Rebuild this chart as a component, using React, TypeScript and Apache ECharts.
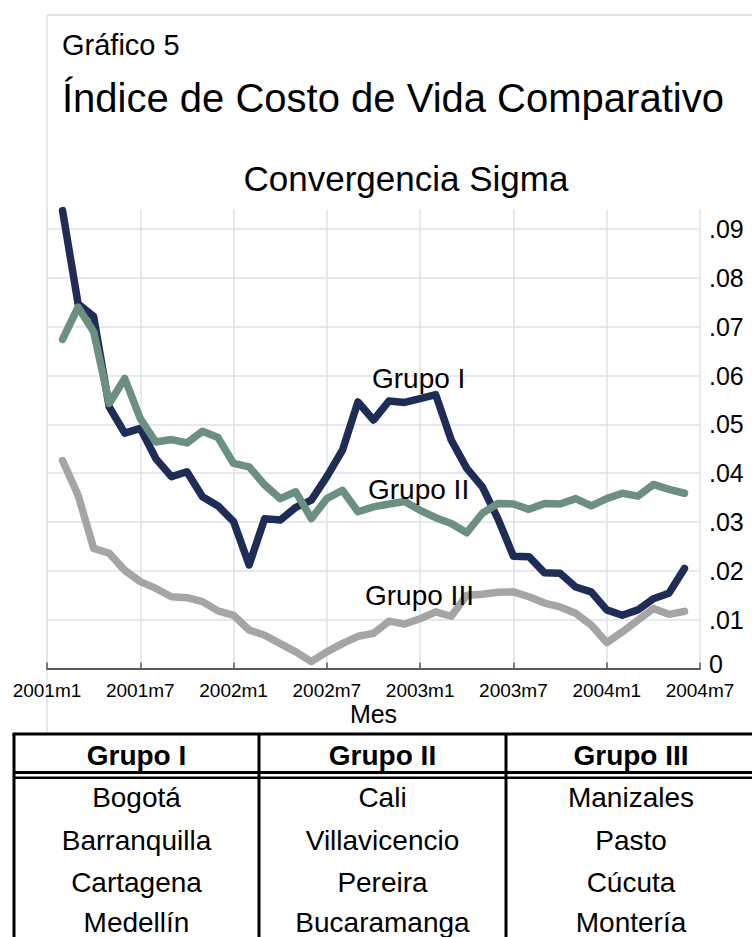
import React, { useEffect, useRef } from "react";
import * as echarts from "echarts";

const categories = [
  "2001m1","2001m2","2001m3","2001m4","2001m5","2001m6","2001m7","2001m8","2001m9","2001m10","2001m11","2001m12",
  "2002m1","2002m2","2002m3","2002m4","2002m5","2002m6","2002m7","2002m8","2002m9","2002m10","2002m11","2002m12",
  "2003m1","2003m2","2003m3","2003m4","2003m5","2003m6","2003m7","2003m8","2003m9","2003m10","2003m11","2003m12",
  "2004m1","2004m2","2004m3","2004m4","2004m5","2004m6","2004m7",
];

// 2001m2 .. 2004m6
const grupoI = [
  0.0938, 0.0747, 0.0721, 0.0536, 0.0482, 0.0492, 0.0430, 0.0393, 0.0403, 0.0352, 0.0333,
  0.0301, 0.0212, 0.0307, 0.0304, 0.0330, 0.0345, 0.0393, 0.0447, 0.0546, 0.0509, 0.0548,
  0.0545, 0.0553, 0.0561, 0.0468, 0.0410, 0.0372, 0.0307, 0.0230, 0.0229, 0.0196, 0.0195,
  0.0167, 0.0157, 0.0120, 0.0109, 0.0120, 0.0143, 0.0154, 0.0205,
];
const grupoII = [
  0.0674, 0.0740, 0.0690, 0.0543, 0.0594, 0.0512, 0.0464, 0.0469, 0.0462, 0.0486, 0.0473,
  0.0420, 0.0413, 0.0376, 0.0348, 0.0362, 0.0307, 0.0348, 0.0365, 0.0321, 0.0331, 0.0337,
  0.0342, 0.0324, 0.0309, 0.0297, 0.0278, 0.0318, 0.0338, 0.0337, 0.0326, 0.0338, 0.0337,
  0.0348, 0.0333, 0.0348, 0.0359, 0.0353, 0.0377, 0.0367, 0.0359,
];
const grupoIII = [
  0.0426, 0.0355, 0.0246, 0.0236, 0.0201, 0.0178, 0.0164, 0.0147, 0.0145, 0.0137, 0.0118,
  0.0109, 0.0079, 0.0068, 0.0051, 0.0034, 0.0014, 0.0034, 0.0051, 0.0066, 0.0072, 0.0097,
  0.0091, 0.0102, 0.0116, 0.0107, 0.0150, 0.0152, 0.0156, 0.0157, 0.0147, 0.0134, 0.0126,
  0.0113, 0.0089, 0.0053, 0.0075, 0.0099, 0.0123, 0.0111, 0.0117,
];

const seriesNames = ["Grupo I", "Grupo II", "Grupo III"];
const seriesColors = ["#1f2d56", "#6b8f80", "#a5a5a5"];

const tableHeaders = ["Grupo I", "Grupo II", "Grupo III"];
const tableCol1 = ["Bogotá", "Barranquilla", "Cartagena", "Medellín"];
const tableCol2 = ["Cali", "Villavicencio", "Pereira", "Bucaramanga"];
const tableCol3 = ["Manizales", "Pasto", "Cúcuta", "Montería"];

const FONT = "'Liberation Sans', Arial, Helvetica, sans-serif";

function pad(values: number[]) {
  return [null, ...values, null];
}

export default function App() {
  const ref = useRef<HTMLDivElement>(null);

  useEffect(() => {
    if (!ref.current) return;
    const chart = echarts.init(ref.current, null, { renderer: "svg" });

    const colX = [136.5, 382.5, 631];
    const rowY = [797, 840, 882, 922];
    const cols = [tableCol1, tableCol2, tableCol3];

    const tableTexts: any[] = [];
    tableHeaders.forEach((h, i) => {
      tableTexts.push({
        type: "text",
        x: colX[i],
        y: 755,
        style: {
          text: h,
          fontSize: 28,
          fontWeight: "bold",
          fontFamily: FONT,
          fill: "#000",
          align: "center",
          verticalAlign: "middle",
        },
      });
    });
    cols.forEach((col, i) => {
      col.forEach((c, j) => {
        tableTexts.push({
          type: "text",
          x: colX[i],
          y: rowY[j],
          style: {
            text: c,
            fontSize: 28,
            fontFamily: FONT,
            fill: "#000",
            align: "center",
            verticalAlign: "middle",
          },
        });
      });
    });

    const labelPos = [
      [372, 378],
      [368, 489],
      [365, 595],
    ];

    chart.setOption({
      animation: false,
      backgroundColor: "#ffffff",
      textStyle: { fontFamily: FONT },
      grid: { left: 47, right: 52, top: 209.6, bottom: 268.5, containLabel: false },
      xAxis: {
        type: "category",
        data: categories,
        boundaryGap: false,
        axisLine: { lineStyle: { color: "#5a5a5a", width: 1.8 } },
        axisTick: { interval: 5, inside: true, length: 6, lineStyle: { color: "#5a5a5a", width: 1.5 } },
        axisLabel: { interval: 5, fontSize: 19, color: "#000", margin: 12, fontFamily: FONT },
        splitLine: { show: true, interval: 5, lineStyle: { color: "#dfe2ec", width: 1.5 } },
        name: "Mes",
        nameLocation: "middle",
        nameGap: 33,
        nameTextStyle: { fontSize: 25, color: "#000", fontFamily: FONT },
      },
      yAxis: {
        type: "value",
        position: "right",
        min: 0,
        max: 0.094,
        interval: 0.01,
        axisLine: { show: false },
        axisTick: { show: false },
        axisLabel: {
          fontSize: 25,
          color: "#000",
          margin: 9,
          showMaxLabel: false,
          fontFamily: FONT,
          formatter: (v: number) => {
            if (v === 0) return "{z|0}";
            const n = Math.round(v * 100);
            return "." + (n < 10 ? "0" + n : String(n));
          },
          rich: {
            z: { fontSize: 25, color: "#000", fontFamily: FONT, padding: [0, 0, 10, 0] },
          },
        },
        splitLine: {
          show: true,
          showMaxLine: false,
          showMinLine: false,
          lineStyle: { color: "#dfe2ec", width: 1.5 },
        },
      },
      series: [grupoI, grupoII, grupoIII].map((d, i) => ({
        name: seriesNames[i],
        type: "line",
        data: pad(d),
        symbol: "none",
        z: 2 + i,
        lineStyle: { color: seriesColors[i], width: 7.5, cap: "round", join: "round" },
      })),
      graphic: [
        { type: "line", shape: { x1: 47, y1: 15, x2: 752, y2: 15 }, style: { stroke: "#d3d9e6", lineWidth: 1.5 } },
        { type: "line", shape: { x1: 47, y1: 15, x2: 47, y2: 734 }, style: { stroke: "#dde1ea", lineWidth: 1.5 } },
        {
          type: "text", x: 62, y: 45,
          style: { text: "Gráfico 5", fontSize: 29, fontFamily: FONT, fill: "#000", verticalAlign: "middle" },
        },
        {
          type: "text", x: 62, y: 98,
          style: { text: "Índice de Costo de Vida Comparativo", fontSize: 40, fontFamily: FONT, fill: "#000", verticalAlign: "middle" },
        },
        {
          type: "text", x: 406, y: 178,
          style: { text: "Convergencia Sigma", fontSize: 35, fontFamily: FONT, fill: "#000", align: "center", verticalAlign: "middle" },
        },
        ...seriesNames.map((n, i) => ({
          type: "text", x: labelPos[i][0], y: labelPos[i][1], z: 10,
          style: { text: n, fontSize: 28, fontFamily: FONT, fill: "#000", verticalAlign: "middle" },
        })),
        // table
        { type: "line", shape: { x1: 12.5, y1: 734, x2: 752, y2: 734 }, style: { stroke: "#000", lineWidth: 3 } },
        { type: "line", shape: { x1: 14, y1: 734, x2: 14, y2: 937 }, style: { stroke: "#000", lineWidth: 3 } },
        { type: "line", shape: { x1: 259, y1: 734, x2: 259, y2: 937 }, style: { stroke: "#000", lineWidth: 3 } },
        { type: "line", shape: { x1: 506, y1: 734, x2: 506, y2: 937 }, style: { stroke: "#000", lineWidth: 3 } },
        { type: "line", shape: { x1: 14, y1: 772.5, x2: 752, y2: 772.5 }, style: { stroke: "#000", lineWidth: 3 } },
        { type: "line", shape: { x1: 14, y1: 777.8, x2: 752, y2: 777.8 }, style: { stroke: "#000", lineWidth: 2.5 } },
        ...tableTexts,
      ],
    });

    return () => chart.dispose();
  }, []);

  return (
    <div
      ref={ref}
      style={{ position: "absolute", left: 0, top: 0, width: 752, height: 937, background: "#fff" }}
    />
  );
}
